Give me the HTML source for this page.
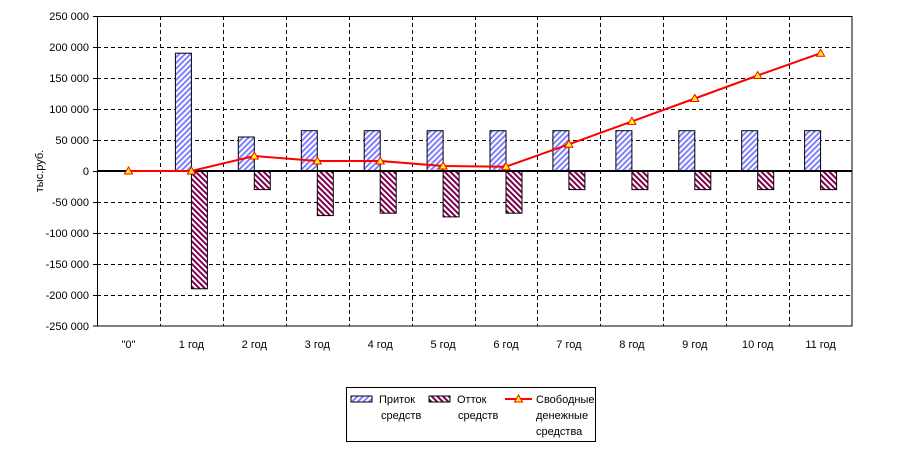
<!DOCTYPE html>
<html><head><meta charset="utf-8"><style>
body{margin:0;background:#fff;}
svg{display:block;font-family:"Liberation Sans",Arial,sans-serif;}
</style></head><body>
<svg width="900" height="449" viewBox="0 0 900 449" xmlns="http://www.w3.org/2000/svg">
<defs>
<pattern id="pin" width="4" height="4" patternUnits="userSpaceOnUse" patternTransform="rotate(45)">
<rect width="4" height="4" fill="#fff"/><rect width="2" height="4" fill="#8080ff"/></pattern>
<pattern id="pout" width="4" height="4" patternUnits="userSpaceOnUse" patternTransform="rotate(-45)">
<rect width="4" height="4" fill="#fff"/><rect width="2" height="4" fill="#800050"/></pattern>
</defs>
<g stroke="#000" stroke-width="1" stroke-dasharray="4,3" fill="none">
<line x1="97" y1="47.5" x2="852" y2="47.5"/><line x1="97" y1="78.5" x2="852" y2="78.5"/>
<line x1="97" y1="109.5" x2="852" y2="109.5"/><line x1="97" y1="140.5" x2="852" y2="140.5"/>
<line x1="97" y1="202.5" x2="852" y2="202.5"/><line x1="97" y1="233.5" x2="852" y2="233.5"/>
<line x1="97" y1="264.5" x2="852" y2="264.5"/><line x1="97" y1="295.5" x2="852" y2="295.5"/>
<line x1="160.5" y1="16" x2="160.5" y2="326"/><line x1="223.5" y1="16" x2="223.5" y2="326"/>
<line x1="286.5" y1="16" x2="286.5" y2="326"/><line x1="349.5" y1="16" x2="349.5" y2="326"/>
<line x1="412.5" y1="16" x2="412.5" y2="326"/><line x1="475.5" y1="16" x2="475.5" y2="326"/>
<line x1="537.5" y1="16" x2="537.5" y2="326"/><line x1="600.5" y1="16" x2="600.5" y2="326"/>
<line x1="663.5" y1="16" x2="663.5" y2="326"/><line x1="726.5" y1="16" x2="726.5" y2="326"/>
<line x1="789.5" y1="16" x2="789.5" y2="326"/>
</g>
<rect x="97.5" y="16.5" width="754.5" height="309.5" fill="none" stroke="#000"/>
<g stroke="#000" stroke-width="1">
<rect x="175.4" y="53.2" width="16" height="117.8" fill="url(#pin)"/>
<rect x="238.3" y="137" width="16" height="34" fill="url(#pin)"/>
<rect x="301.3" y="130.7" width="16" height="40.3" fill="url(#pin)"/>
<rect x="364.2" y="130.7" width="16" height="40.3" fill="url(#pin)"/>
<rect x="427.1" y="130.7" width="16" height="40.3" fill="url(#pin)"/>
<rect x="490" y="130.7" width="16" height="40.3" fill="url(#pin)"/>
<rect x="552.9" y="130.7" width="16" height="40.3" fill="url(#pin)"/>
<rect x="615.9" y="130.7" width="16" height="40.3" fill="url(#pin)"/>
<rect x="678.8" y="130.7" width="16" height="40.3" fill="url(#pin)"/>
<rect x="741.7" y="130.7" width="16" height="40.3" fill="url(#pin)"/>
<rect x="804.6" y="130.7" width="16" height="40.3" fill="url(#pin)"/>
<rect x="191.4" y="171" width="16" height="117.8" fill="url(#pout)"/>
<rect x="254.3" y="171" width="16" height="18.6" fill="url(#pout)"/>
<rect x="317.3" y="171" width="16" height="44.6" fill="url(#pout)"/>
<rect x="380.2" y="171" width="16" height="42.2" fill="url(#pout)"/>
<rect x="443.1" y="171" width="16" height="45.9" fill="url(#pout)"/>
<rect x="506" y="171" width="16" height="42.2" fill="url(#pout)"/>
<rect x="568.9" y="171" width="16" height="18.6" fill="url(#pout)"/>
<rect x="631.9" y="171" width="16" height="18.6" fill="url(#pout)"/>
<rect x="694.8" y="171" width="16" height="18.6" fill="url(#pout)"/>
<rect x="757.7" y="171" width="16" height="18.6" fill="url(#pout)"/>
<rect x="820.6" y="171" width="16" height="18.6" fill="url(#pout)"/>
</g>
<line x1="97" y1="171" x2="852" y2="171" stroke="#000" stroke-width="2"/>
<g stroke="#000">
<line x1="93" y1="16.5" x2="97" y2="16.5"/><line x1="93" y1="47.5" x2="97" y2="47.5"/><line x1="93" y1="78.5" x2="97" y2="78.5"/><line x1="93" y1="109.5" x2="97" y2="109.5"/><line x1="93" y1="140.5" x2="97" y2="140.5"/><line x1="93" y1="171.5" x2="97" y2="171.5"/><line x1="93" y1="202.5" x2="97" y2="202.5"/><line x1="93" y1="233.5" x2="97" y2="233.5"/><line x1="93" y1="264.5" x2="97" y2="264.5"/><line x1="93" y1="295.5" x2="97" y2="295.5"/><line x1="93" y1="326" x2="97" y2="326"/>
</g>
<polyline points="128.5,171 191.4,171 254.3,156 317.3,161 380.2,161 443.1,166 506,166.7 568.9,144.3 631.9,121.4 694.8,98.5 757.7,75.5 820.6,53.2" fill="none" stroke="#ff0000" stroke-width="2"/>
<g fill="#ffff00" stroke="#ff0000" stroke-width="1">
<polygon points="128.5,167 132.5,174 124.5,174"/><polygon points="191.4,167 195.4,174 187.4,174"/>
<polygon points="254.3,152 258.3,159 250.3,159"/><polygon points="317.3,157 321.3,164 313.3,164"/>
<polygon points="380.2,157 384.2,164 376.2,164"/><polygon points="443.1,162 447.1,169 439.1,169"/>
<polygon points="506,162.7 510,169.7 502,169.7"/><polygon points="568.9,140.3 572.9,147.3 564.9,147.3"/>
<polygon points="631.9,117.4 635.9,124.4 627.9,124.4"/><polygon points="694.8,94.5 698.8,101.5 690.8,101.5"/>
<polygon points="757.7,71.5 761.7,78.5 753.7,78.5"/><polygon points="820.6,49.2 824.6,56.2 816.6,56.2"/>
</g>
<g font-size="11" fill="#000" text-anchor="end">
<text x="89" y="20">250 000</text><text x="89" y="51">200 000</text><text x="89" y="82">150 000</text><text x="89" y="113">100 000</text><text x="89" y="144">50 000</text><text x="89" y="175">0</text><text x="89" y="206">-50 000</text><text x="89" y="237">-100 000</text><text x="89" y="268">-150 000</text><text x="89" y="299">-200 000</text><text x="89" y="330">-250 000</text>
</g>
<g font-size="11" fill="#000" text-anchor="middle">
<text x="128.5" y="348">"0"</text><text x="191.4" y="348">1 год</text><text x="254.3" y="348">2 год</text><text x="317.3" y="348">3 год</text><text x="380.2" y="348">4 год</text><text x="443.1" y="348">5 год</text><text x="506" y="348">6 год</text><text x="568.9" y="348">7 год</text><text x="631.9" y="348">8 год</text><text x="694.8" y="348">9 год</text><text x="757.7" y="348">10 год</text><text x="820.6" y="348">11 год</text>
</g>
<text x="0" y="0" font-size="11" text-anchor="middle" transform="translate(43,171) rotate(-90)">тыс.руб.</text>
<rect x="346.5" y="387.5" width="249" height="54" fill="#fff" stroke="#000"/>
<rect x="351" y="396" width="21" height="6" fill="url(#pin)" stroke="#000"/>
<rect x="429" y="396" width="21" height="6" fill="url(#pout)" stroke="#000"/>
<line x1="505" y1="399" x2="532" y2="399" stroke="#ff0000" stroke-width="2"/>
<polygon points="518.5,395 522.5,402 514.5,402" fill="#ffff00" stroke="#ff0000"/>
<g font-size="11" fill="#000">
<text x="379" y="403">Приток</text><text x="381" y="419">средств</text>
<text x="457" y="403">Отток</text><text x="458" y="419">средств</text>
<text x="536" y="403">Свободные</text><text x="536" y="419">денежные</text><text x="536" y="435">средства</text>
</g>
</svg>
</body></html>
